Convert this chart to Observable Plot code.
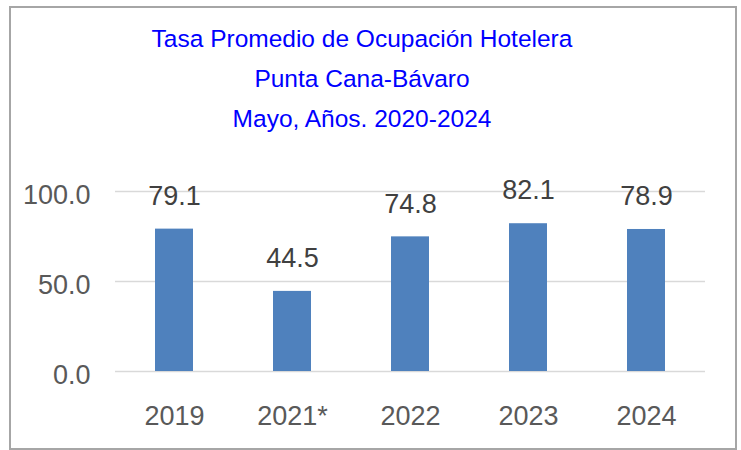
<!DOCTYPE html>
<html>
<head>
<meta charset="utf-8">
<script src="https://cdn.jsdelivr.net/npm/d3@7"></script>
<script src="https://cdn.jsdelivr.net/npm/@observablehq/plot@0.6"></script>
<style>
  html, body { margin: 0; padding: 0; background: #fff; }
  #wrap { position: relative; width: 741px; height: 450px; overflow: hidden; background: #fff; }
  #frame { position: absolute; left: 9px; top: 6px; width: 728px; height: 444px; border: 2px solid #a6a6a6; box-sizing: border-box; pointer-events: none; }
  #title { position: absolute; left: 0; top: 18.5px; width: 724px; text-align: center; color: #0000ff;
           font-family: "Liberation Sans", Arial, sans-serif; font-size: 24.5px; line-height: 40.3px; letter-spacing: 0px; }
  #chart { position: absolute; left: 0; top: 0; }
</style>
</head>
<body>
<div id="wrap">
  <div id="chart"></div>
  <div id="title">Tasa Promedio de Ocupación Hotelera<br>Punta Cana-Bávaro<br>Mayo, Años. 2020-2024</div>
  <div id="frame"></div>
</div>
<script>
const years = ["2019", "2021*", "2022", "2023", "2024"];
const values = [79.1, 44.5, 74.8, 82.1, 78.9];
const yTicks = [0, 50, 100];

const data = years.map((year, i) => ({year, value: values[i]}));
const font = "'Liberation Sans', Arial, sans-serif";

const chart = Plot.plot({
  width: 741,
  height: 450,
  marginTop: 191,
  marginBottom: 79,
  marginLeft: 115,
  marginRight: 36,
  style: {fontFamily: font, background: "transparent"},
  x: {domain: years, paddingInner: 0.678, paddingOuter: 0.339, label: null},
  y: {domain: [0, 100], ticks: yTicks, label: null},
  marks: [
    Plot.ruleY(yTicks, {stroke: "#d9d9d9", strokeWidth: 1.5}),
    Plot.barY(data, {x: "year", y: "value", fill: "#4f81bd"}),
    Plot.text(data, {x: "year", y: "value", text: d => d.value.toFixed(1), dy: -33, fontSize: 27, fill: "#404040"}),
    Plot.axisY({ticks: yTicks, tickFormat: d3.format(".1f"), tickSize: 0, tickPadding: 25, fontSize: 27, dy: 4, color: "#595959", label: null}),
    Plot.axisX({tickSize: 0, tickPadding: 34, fontSize: 27, color: "#595959", label: null})
  ]
});
document.getElementById("chart").appendChild(chart);
</script>
</body>
</html>
